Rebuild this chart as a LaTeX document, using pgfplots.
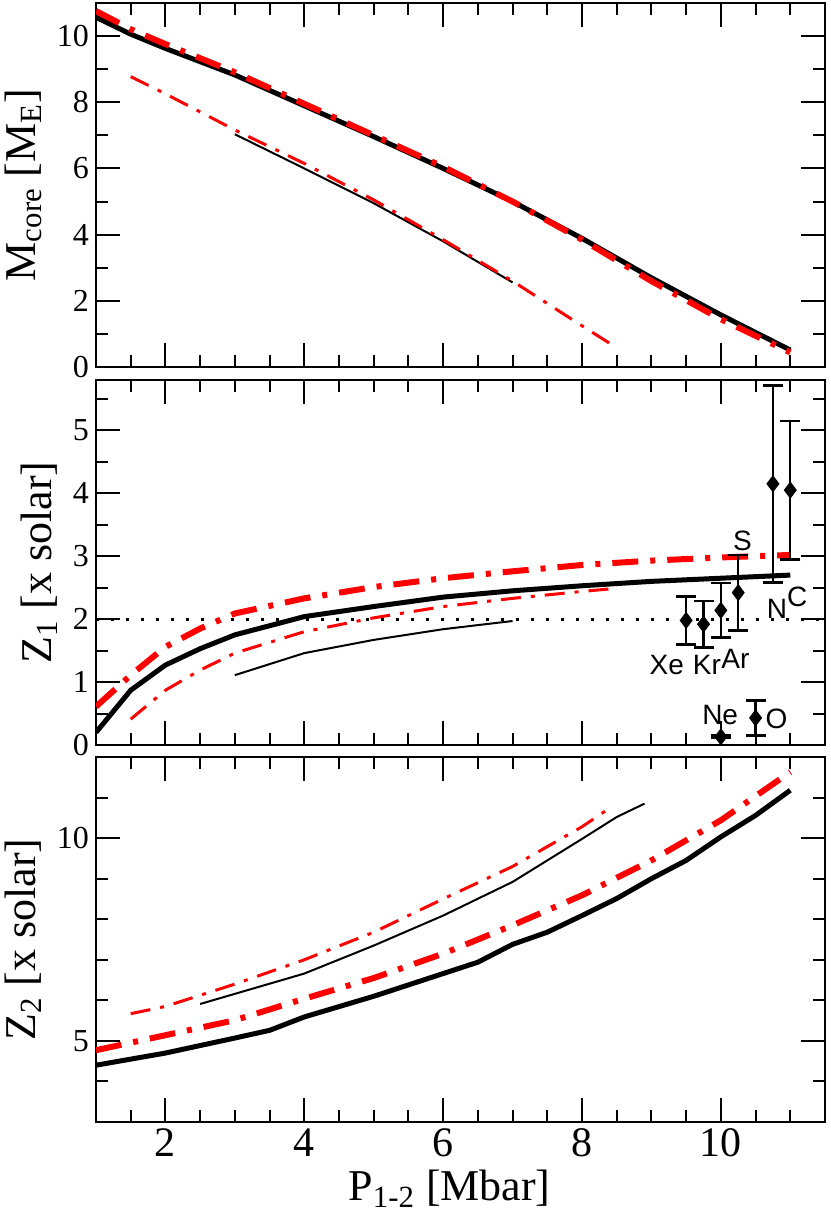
\documentclass[border=0pt]{standalone}
\usepackage{fontspec}
\setmainfont{Liberation Serif}
\newfontfamily\labfont{Liberation Sans}
\usepackage{pgfplots}
\pgfplotsset{compat=1.18}
\definecolor{myred}{RGB}{255,0,0}

\tikzset{
 thickblack/.style={black, line width=2.5pt},
 thinblack/.style={black, line width=1pt},
 thickred/.style={myred, line width=3pt, dash pattern=on 13pt off 6pt on 2.5pt off 6pt},
 thinred/.style={myred, line width=1.5pt, dash pattern=on 10pt off 5pt on 2pt off 5pt},
 lab/.style={font=\labfont\fontsize{14}{14}\selectfont, inner sep=0pt},
 tk/.style={black, line width=1pt},
}
% inside tick marks along the frame, both ends given in axis units
\newcommand\xtm[6]{%
 \foreach \t in {2,4,6,8,10}{\draw[tk] (axis cs:\t,#1) -- (axis cs:\t,#2); \draw[tk] (axis cs:\t,#4) -- (axis cs:\t,#5);}%
 \foreach \t in {1.5,2.5,3,3.5,4.5,5,5.5,6.5,7,7.5,8.5,9,9.5,10.5,11}{\draw[tk] (axis cs:\t,#1) -- (axis cs:\t,#3); \draw[tk] (axis cs:\t,#4) -- (axis cs:\t,#6);}%
}
\newcommand\ytm[2]{%
 \foreach \t in {#1}{\draw[tk] (axis cs:1,\t) -- (axis cs:1.3457,\t); \draw[tk] (axis cs:11.5,\t) -- (axis cs:11.1543,\t);}%
 \foreach \t in {#2}{\draw[tk] (axis cs:1,\t) -- (axis cs:1.1728,\t); \draw[tk] (axis cs:11.5,\t) -- (axis cs:11.3272,\t);}%
}
\pgfplotsset{
 panel/.style={
   scale only axis, width=364.5pt, xmin=1, xmax=11.5,
   xtick={2,4,6,8,10},
   axis line style={line width=1pt},
   /pgf/number format/assume math mode=true,
   yticklabel style={font=\fontsize{16}{16}\selectfont},
   xticklabel style={font=\fontsize{21}{21}\selectfont},
   ylabel style={font=\fontsize{22}{22}\selectfont, anchor=center},
   xlabel style={font=\fontsize{22}{22}\selectfont, anchor=center},
 },
}

\pgfplotstableread{
x y e
9.5 1.98 0.38
9.75 1.92 0.37
10 2.14 0.43
10.25 2.42 0.60
10.75 4.15 1.565
11.0 4.05 1.10
10.0 0.13 0.02
10.5 0.43 0.28
}\elements

\begin{document}
\begin{tikzpicture}
% ---------- top panel ----------
\begin{axis}[panel, at={(0pt,377.35pt)}, anchor=south west, height=182.3pt,
  ymin=0, ymax=11, ytick={0,2,4,6,8,10},
  minor x tick num=3, minor y tick num=1,
  tick align=inside, major tick length=0.42cm, minor tick length=0.21cm,
  tick style={black, line width=1pt},
  xticklabels={},
  extra description/.code={\xtm{0}{0.724}{0.362}{11}{10.276}{10.638}\ytm{2,4,6,8,10}{1,3,5,7,9}},
  ylabel={M\textsubscript{core} [M\textsubscript{E}]},
  ylabel style={at={(axis description cs:-0.1,0.5)}}]
\addplot[thickblack] coordinates {(1,10.56) (1.5,10.05) (2,9.62) (3,8.82) (4,7.89) (5,6.96) (6,6.0) (7,5.0) (8,3.89) (9,2.7) (10,1.58) (11,0.52)};
\addplot[thinblack] coordinates {(3,7.03) (4,6.0) (5,4.95) (6,3.8) (7,2.56)};
\addplot[thickred] coordinates {(1,10.75) (1.5,10.2) (2,9.75) (3,8.9) (4,7.95) (5,7.0) (6,6.05) (7,5.0) (8,3.85) (9,2.6) (10,1.45) (11,0.45)};
\addplot[thinred] coordinates {(1.5,8.77) (2,8.25) (3,7.16) (4,6.15) (5,5.05) (6,3.85) (7,2.6) (8,1.25) (8.5,0.59)};
\end{axis}
% ---------- middle panel ----------
\begin{axis}[panel, at={(0pt,188.5pt)}, anchor=south west, height=182.5pt,
  ymin=0, ymax=5.8, ytick={0,1,2,3,4,5},
  minor x tick num=3, minor y tick num=1,
  tick align=inside, major tick length=0.42cm, minor tick length=0.21cm,
  tick style={black, line width=1pt},
  xticklabels={},
  extra description/.code={\xtm{0}{0.381}{0.191}{5.8}{5.419}{5.609}\ytm{1,2,3,4,5}{0.5,1.5,2.5,3.5,4.5,5.5}},
  ylabel={Z\textsubscript{1} [x solar]},
  ylabel style={at={(axis description cs:-0.078,0.5)}}]
\addplot[black, line width=1.6pt, dash pattern=on 1.6pt off 5.9pt] coordinates {(1,2) (11.5,2)};
\addplot[thickblack] coordinates {(1,0.2) (1.5,0.87) (2,1.27) (2.5,1.53) (3,1.75) (4,2.04) (5,2.2) (6,2.35) (7,2.45) (8,2.53) (9,2.6) (10,2.65) (11,2.7)};
\addplot[thinblack] coordinates {(3,1.11) (4,1.46) (5,1.67) (6,1.84) (7,1.97)};
\addplot[thickred] coordinates {(1,0.61) (1.5,1.11) (2,1.56) (2.5,1.85) (3,2.09) (4,2.33) (5,2.51) (6,2.65) (7,2.76) (8,2.86) (9,2.93) (10,2.98) (11,3.02)};
\addplot[thinred] coordinates {(1.5,0.41) (2,0.87) (2.5,1.19) (3,1.46) (4,1.8) (5,2.02) (6,2.2) (7,2.33) (8,2.44) (8.5,2.49)};
\addplot[black, only marks, mark=diamond*, mark size=4pt, mark options={black, fill=black},
  error bars/.cd, y dir=both, y explicit,
  error bar style={line width=1.2pt, black},
  error mark options={rotate=90, mark size=5pt, line width=1.2pt, black}]
  table[x=x, y=y, y error=e] {\elements};
\node[lab] at (axis cs:9.22,1.27) {Xe};
\node[lab] at (axis cs:9.80,1.27) {Kr};
\node[lab] at (axis cs:10.21,1.37) {Ar};
\node[lab] at (axis cs:10.31,3.24) {S};
\node[lab] at (axis cs:10.81,2.17) {N};
\node[lab] at (axis cs:11.10,2.35) {C};
\node[lab] at (axis cs:9.99,0.48) {Ne};
\node[lab] at (axis cs:10.80,0.41) {O};
\end{axis}
% ---------- bottom panel ----------
\begin{axis}[panel, at={(0pt,0pt)}, anchor=south west, height=182.5pt,
  ymin=3, ymax=12, ytick={5,10}, minor ytick={4,6,7,8,9,11},
  minor x tick num=3,
  tick align=inside, major tick length=0.42cm, minor tick length=0.21cm,
  tick style={black, line width=1pt},
  extra description/.code={\xtm{3}{3.592}{3.296}{12}{11.408}{11.704}\ytm{5,10}{4,6,7,8,9,11}},
  ylabel={Z\textsubscript{2} [x solar]},
  ylabel style={at={(axis description cs:-0.1,0.5)}},
  xlabel={P\textsubscript{1-2} [Mbar]},
  xlabel style={at={(axis description cs:0.485,-0.183)}}]
\addplot[thickblack] coordinates {(1,4.4) (2,4.7) (3,5.07) (3.5,5.26) (4,5.59) (5,6.1) (6,6.66) (6.5,6.94) (7,7.38) (7.5,7.68) (8,8.09) (8.5,8.51) (9,9.0) (9.5,9.45) (10,10.03) (10.5,10.56) (11,11.18)};
\addplot[thinblack] coordinates {(2.5,5.91) (3,6.16) (4,6.66) (5,7.35) (6,8.09) (7,8.92) (8,9.98) (8.5,10.52) (8.9,10.85)};
\addplot[thickred] coordinates {(1,4.77) (2,5.14) (3,5.51) (4,6.04) (5,6.55) (6,7.15) (7,7.85) (8,8.59) (9,9.45) (10,10.44) (11,11.63)};
\addplot[thinred] coordinates {(1.5,5.67) (2,5.85) (3,6.4) (4,7.0) (5,7.68) (6,8.5) (7,9.3) (8,10.28) (8.45,10.8)};
\end{axis}
\pgfresetboundingbox
\path[use as bounding box] (-48pt,-46pt) rectangle (367pt,561pt);
\end{tikzpicture}
\end{document}
